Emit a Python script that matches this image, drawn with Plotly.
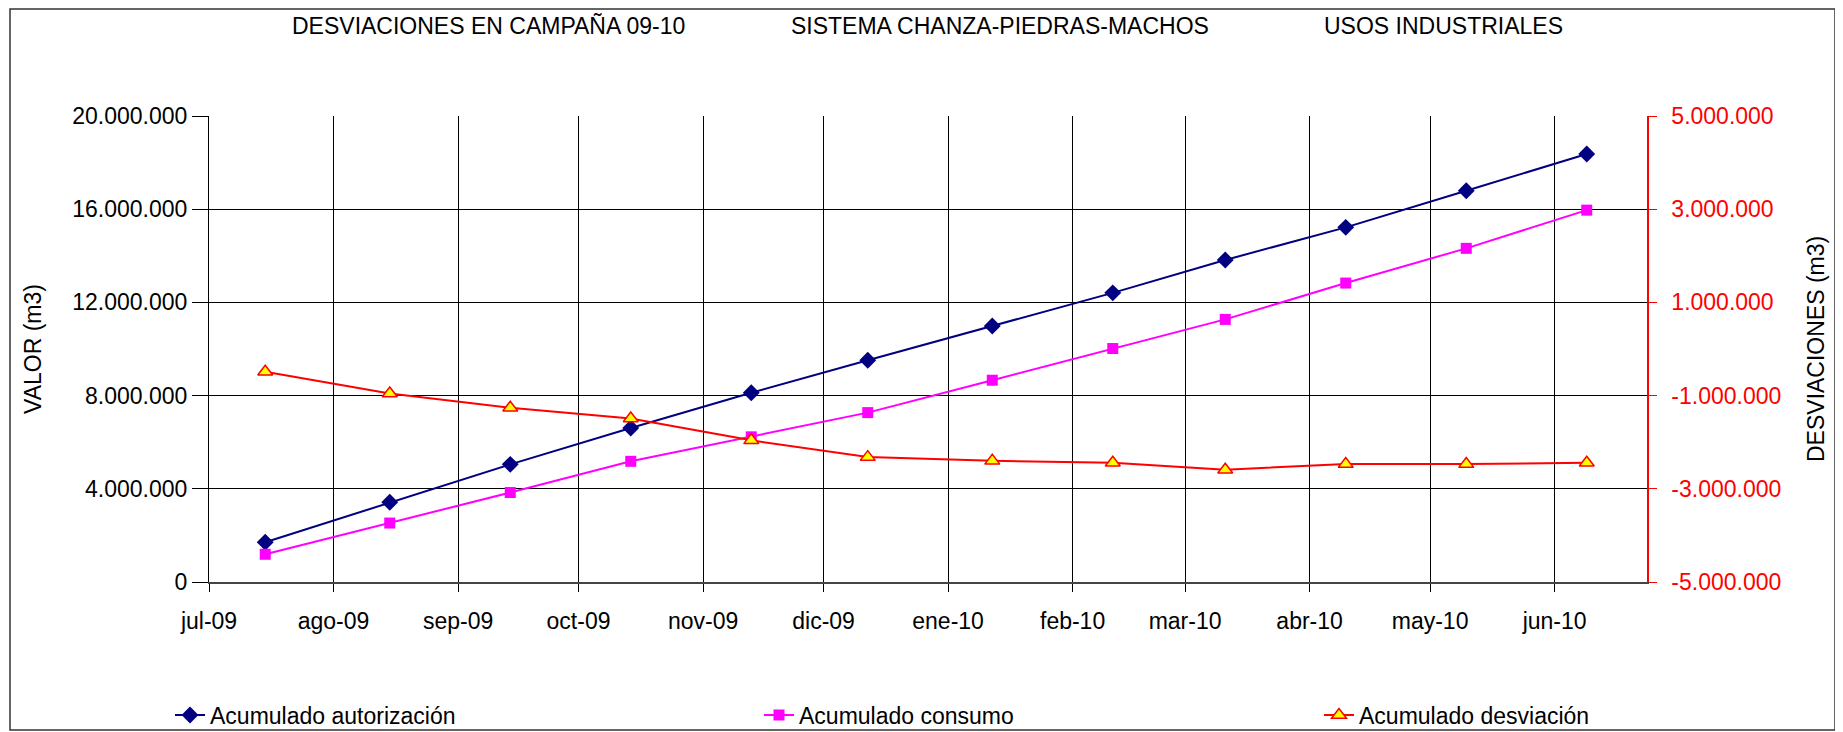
import plotly.graph_objects as go

fechas = ['2009-07-15', '2009-08-15', '2009-09-14', '2009-10-14', '2009-11-13', '2009-12-12',
          '2010-01-12', '2010-02-11', '2010-03-11', '2010-04-10', '2010-05-10', '2010-06-09']
autorizacion = [1705000, 3420000, 5050000, 6610000, 8120000, 9520000,
                10990000, 12410000, 13820000, 15220000, 16790000, 18370000]
consumo = [1190000, 2530000, 3840000, 5180000, 6230000, 7270000,
           8660000, 10020000, 11270000, 12830000, 14320000, 15960000]
desviacion = [-490000, -955000, -1260000, -1490000, -1960000, -2320000,
              -2400000, -2440000, -2590000, -2470000, -2470000, -2440000]

meses = ['2009-07-01', '2009-08-01', '2009-09-01', '2009-10-01', '2009-11-01', '2009-12-01',
         '2010-01-01', '2010-02-01', '2010-03-01', '2010-04-01', '2010-05-01', '2010-06-01']
meses_txt = ['jul-09', 'ago-09', 'sep-09', 'oct-09', 'nov-09', 'dic-09',
             'ene-10', 'feb-10', 'mar-10', 'abr-10', 'may-10', 'jun-10']
desv_ticks = [-5000000, -3000000, -1000000, 1000000, 3000000, 5000000]
desv_txt = ['-5.000.000', '-3.000.000', '-1.000.000', '1.000.000', '3.000.000', '5.000.000']

# the page body has an 8px margin, so the figure is drawn 8px in from the corner
OFF = 8
W, H = 1843 - OFF, 732 - OFF
L, T = 209 - OFF, 116 - OFF
R, B = W - (1647 - OFF), H - (582 - OFF)
PW, PH = W - L - R, H - T - B
FONT = 'Liberation Sans, Arial, sans-serif'


def px(x):
    return (x - OFF - L) / PW


def py(y):
    return (H - B - (y - OFF)) / PH


fig = go.Figure()
fig.add_trace(go.Scatter(x=fechas, y=autorizacion, name='Acumulado autorización',
                         mode='lines+markers', legend='legend',
                         line=dict(color='#000080', width=2),
                         marker=dict(symbol='diamond', size=13, color='#000080')))
fig.add_trace(go.Scatter(x=fechas, y=consumo, name='Acumulado consumo',
                         mode='lines+markers', legend='legend2',
                         line=dict(color='#FF00FF', width=2),
                         marker=dict(symbol='square', size=11, color='#FF00FF')))
fig.add_trace(go.Scatter(x=fechas, y=desviacion, name='Acumulado desviación',
                         mode='lines+markers', yaxis='y2', legend='legend3',
                         line=dict(color='#FF0000', width=2),
                         marker=dict(symbol='triangle-up', size=13, color='#FFFF00',
                                     line=dict(color='#FF0000', width=1.5))))

leg = dict(orientation='h', xref='container', yref='container',
           yanchor='middle', y=1 - (715 - OFF) / H, xanchor='left',
           bgcolor='rgba(0,0,0,0)', font=dict(family=FONT, size=23, color='black'))
fig.update_layout(
    showlegend=True,
    legend=dict(leg, x=(211 - OFF - 41) / W),
    legend2=dict(leg, x=(800 - OFF - 41) / W),
    legend3=dict(leg, x=(1360 - OFF - 41) / W),
)

fig.update_layout(
    width=W, height=H,
    margin=dict(l=L, r=R, t=T, b=B, autoexpand=False),
    paper_bgcolor='white', plot_bgcolor='white',
    separators=',.',
    font=dict(family=FONT, size=23, color='black'),
    xaxis=dict(type='date', range=['2009-07-01', '2010-06-24'],
               tickvals=meses, ticktext=meses_txt,
               showgrid=True, gridcolor='black', gridwidth=1,
               showline=True, linecolor='#444', linewidth=1.5,
               ticks='outside', ticklen=8, tickcolor='black',
               ticklabelstandoff=10, zeroline=False),
    yaxis=dict(range=[0, 20000000], dtick=4000000, tickformat=',d',
               showgrid=True, gridcolor='black', gridwidth=1,
               showline=True, linecolor='black', linewidth=1,
               ticks='outside', ticklen=16, tickcolor='black',
               zeroline=False),
    yaxis2=dict(range=[-5000000, 5000000], tickvals=desv_ticks, ticktext=desv_txt,
                overlaying='y', side='right', showgrid=False,
                showline=True, linecolor='#FF0000', linewidth=1.5,
                ticks='outside', ticklen=8, tickcolor='#FF0000',
                ticklabelstandoff=10,
                tickfont=dict(color='#FF0000', size=23), zeroline=False),
)

ann = dict(xref='paper', yref='paper', showarrow=False,
           font=dict(family=FONT, size=23, color='black'))
titulos = [('DESVIACIONES EN CAMPAÑA 09-10', 488), ('SISTEMA CHANZA-PIEDRAS-MACHOS', 1000),
           ('USOS INDUSTRIALES', 1443)]
for txt, xc in titulos:
    fig.add_annotation(ann, text=txt, x=px(xc), y=py(26), xanchor='center', yanchor='middle')
fig.add_annotation(ann, text='VALOR (m3)', textangle=-90, x=px(33), y=py(349),
                   xanchor='center', yanchor='middle')
fig.add_annotation(ann, text='DESVIACIONES (m3)', textangle=-90, x=px(1816), y=py(349),
                   xanchor='center', yanchor='middle')

fig.add_shape(type='rect', xref='paper', yref='paper',
              x0=px(10), x1=px(1835), y0=py(730), y1=py(9),
              line=dict(color='#333', width=1.5), layer='below')

fig.write_html('out.html')
